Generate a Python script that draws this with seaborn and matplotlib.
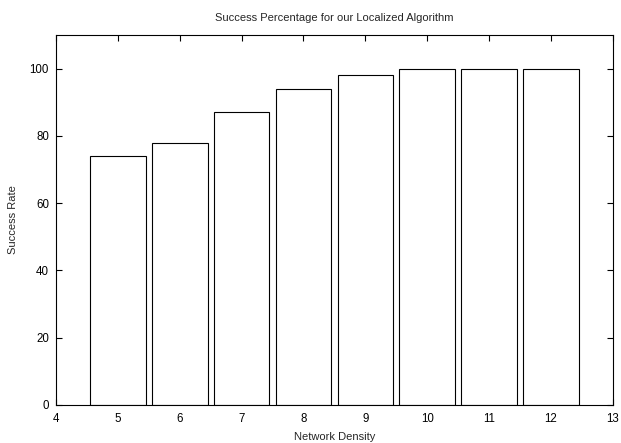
import matplotlib
matplotlib.use("Agg")
import matplotlib.pyplot as plt
import seaborn as sns

density = [5, 6, 7, 8, 9, 10, 11, 12]
success = [74, 78, 87, 94, 98, 100, 100, 100]
xticks = [4, 5, 6, 7, 8, 9, 10, 11, 12, 13]
yticks = [0, 20, 40, 60, 80, 100]

sns.set_style("ticks")
plt.rcParams['font.family'] = ['Liberation Sans', 'DejaVu Sans']

fig, ax = plt.subplots(figsize=(6.21, 4.43), dpi=100)
fig.subplots_adjust(left=0.090, right=0.987, top=0.921, bottom=0.086)

sns.barplot(x=density, y=success, native_scale=True, width=0.9,
            color="white", edgecolor="black", linewidth=0.8,
            saturation=1, ax=ax)

ax.set_xlim(4, 13)
ax.set_ylim(0, 110)
ax.set_xticks(xticks)
ax.set_yticks(yticks)
ax.tick_params(direction="in", length=4, width=0.8, labelsize=8.3,
               top=True, right=True, colors="black")
ax.tick_params(axis="x", pad=6)
ax.tick_params(axis="y", pad=5)
for s in ax.spines.values():
    s.set_linewidth(0.8)
    s.set_color("black")

ax.set_title("Success Percentage for our Localized Algorithm", fontsize=8, pad=10)
ax.set_xlabel("Network Density", fontsize=8, labelpad=5)
ax.set_ylabel("Success Rate", fontsize=8, labelpad=8)

fig.savefig("out.png", dpi=100)
